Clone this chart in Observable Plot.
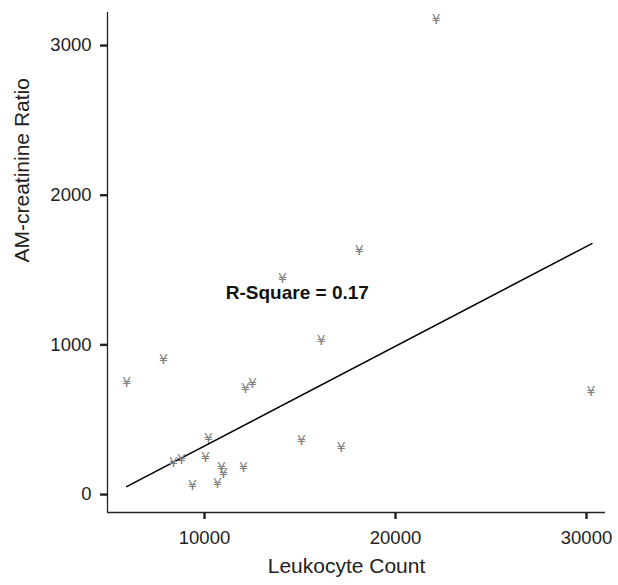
<!DOCTYPE html>
<html><head><meta charset="utf-8">
<script src="https://cdn.jsdelivr.net/npm/d3@7"></script>
<script src="https://cdn.jsdelivr.net/npm/@observablehq/plot@0.6"></script>
<style>body{margin:0;background:#fff}</style>
</head><body><div id="chart"></div>
<script>
// Leukocyte count (x) and AM-creatinine ratio (y)
const leukocyte = [5923, 7857, 22128, 18103, 14077, 16116, 30230, 12143, 12509, 10209,
                   10052, 8380, 8798, 9373, 10889, 10993, 10680, 12039, 15071, 17162];
const ratio     = [748, 902, 3174, 1630, 1443, 1029, 688, 708, 742, 374,
                   247, 214, 234, 60, 180, 140, 73, 180, 361, 314];
// Fitted regression line end points
const fitX = [5923, 30282];
const fitY = [53, 1677];
// Ticks
const xTicks = [10000, 20000, 30000];
const yTicks = [0, 1000, 2000, 3000];
// Annotation
const annText = ["R-Square = 0.17"];
const annX = [14860];
const annY = [1349];

const xDomain = [4921, 30995];
const yDomain = [-120, 3221];

const points = leukocyte.map((x, i) => ({x, y: ratio[i]}));
const fit = fitX.map((x, i) => ({x, y: fitY[i]}));

const chart = Plot.plot({
  width: 618,
  height: 585,
  marginLeft: 107,
  marginRight: 13,
  marginTop: 12,
  marginBottom: 73,
  style: {fontFamily: "'Liberation Sans', Arial, sans-serif", background: "#fff", color: "#222"},
  x: {domain: xDomain},
  y: {domain: yDomain},
  marks: [
    Plot.axisX(xTicks, {tickSize: 7, strokeWidth: 2.4, tickPadding: 11, fontSize: 18.5, label: null, tickFormat: d => String(d), fill: "#222"}),
    Plot.axisY(yTicks, {tickSize: 7, strokeWidth: 2.4, tickPadding: 9, fontSize: 18.5, label: null, tickFormat: d => String(d), fill: "#222"}),
    Plot.ruleY([yDomain[0]], {stroke: "#222", strokeWidth: 1.3}),
    Plot.ruleX([xDomain[0]], {stroke: "#222", strokeWidth: 1.3}),
    Plot.line(fit, {x: "x", y: "y", stroke: "#000", strokeWidth: 1.5}),
    Plot.text(points, {x: "x", y: "y", text: () => "¥", fill: "#808080", fontSize: 14, fontFamily: "DejaVu Sans"}),
    Plot.text(annText, {x: (d, i) => annX[i], y: (d, i) => annY[i], text: d => d, fontSize: 19, fontWeight: "bold", fill: "#111"}),
    Plot.text(["Leukocyte Count"], {frameAnchor: "bottom", dx: -10, dy: 60, fontSize: 21, fill: "#222"}),
    Plot.text(["AM-creatinine Ratio"], {frameAnchor: "left", dx: -85, rotate: -90, fontSize: 21, fill: "#222"})
  ]
});
document.getElementById("chart").appendChild(chart);
</script>
</body></html>
